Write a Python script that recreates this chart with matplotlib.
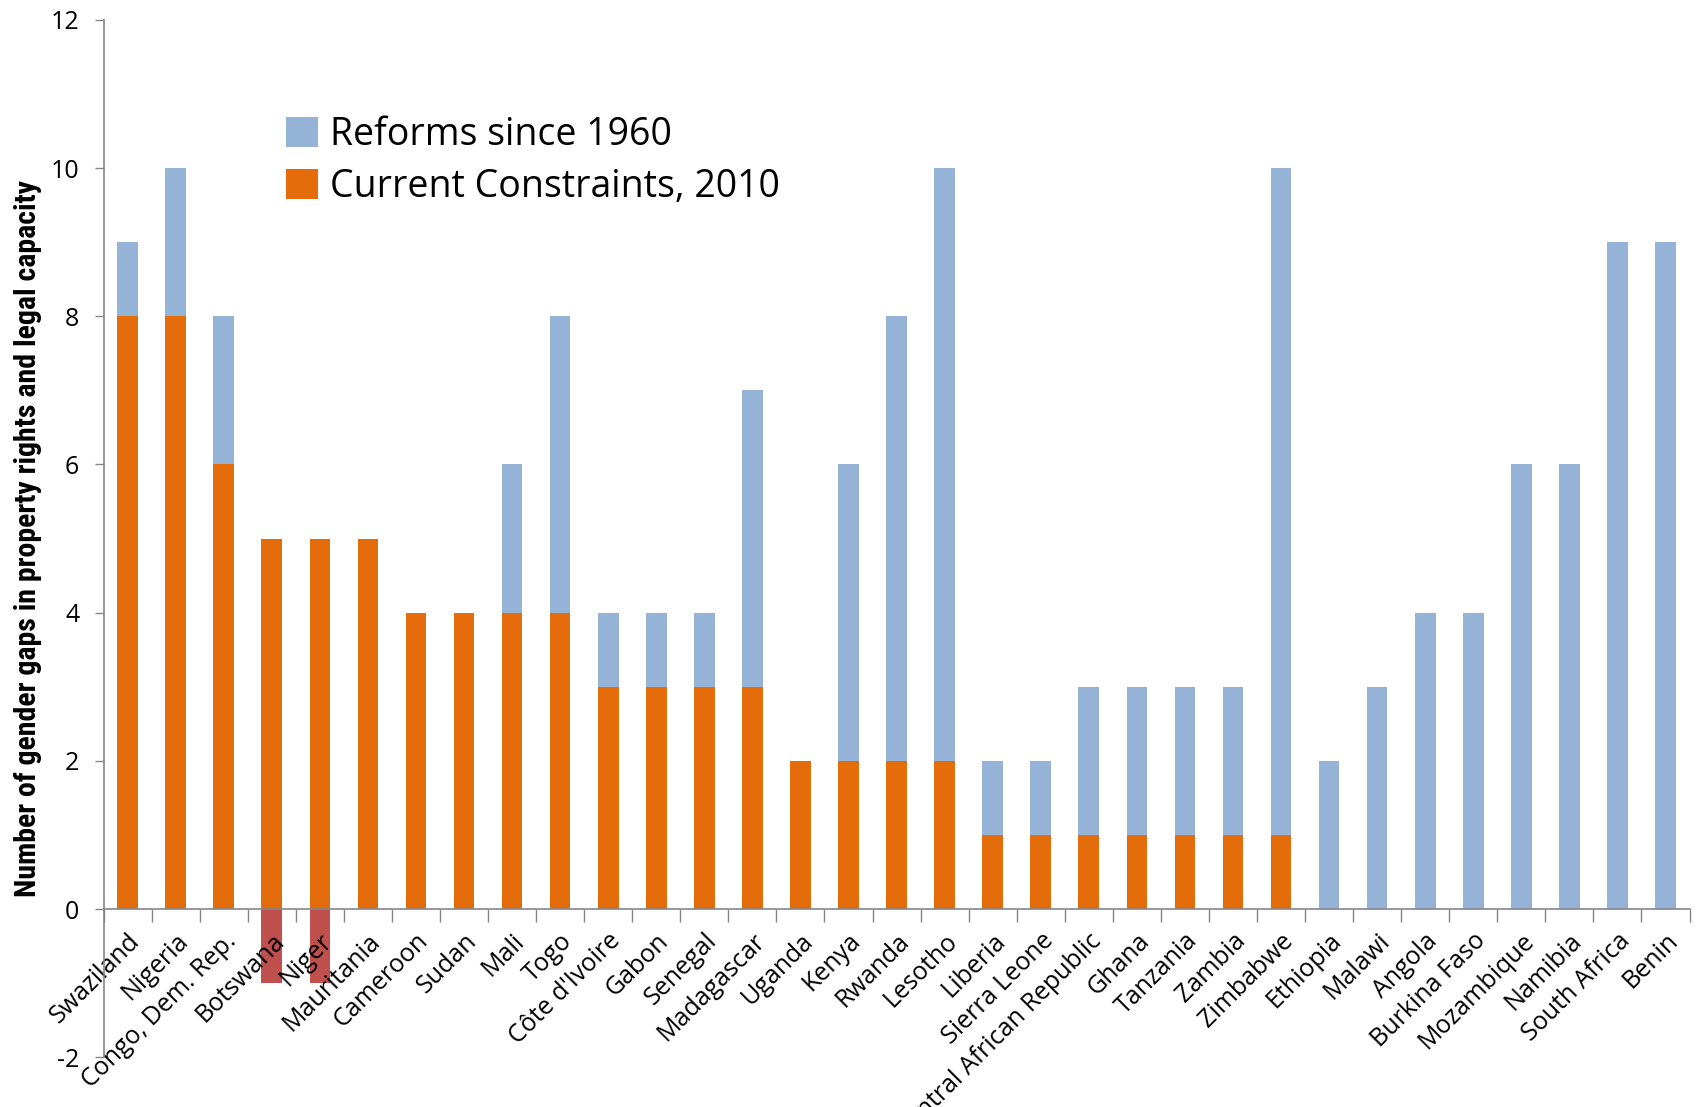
import matplotlib
matplotlib.use("Agg")
import matplotlib.pyplot as plt
import numpy as np
from matplotlib.patches import Patch

countries = ["Swaziland", "Nigeria", "Congo, Dem. Rep.", "Botswana", "Niger", "Mauritania",
             "Cameroon", "Sudan", "Mali", "Togo", "Côte d'Ivoire", "Gabon", "Senegal",
             "Madagascar", "Uganda", "Kenya", "Rwanda", "Lesotho", "Liberia", "Sierra Leone",
             "Central African Republic", "Ghana", "Tanzania", "Zambia", "Zimbabwe", "Ethiopia",
             "Malawi", "Angola", "Burkina Faso", "Mozambique", "Namibia", "South Africa", "Benin"]
current_2010 = [8, 8, 6, 5, 5, 5, 4, 4, 4, 4, 3, 3, 3, 3, 2, 2, 2, 2, 1, 1, 1, 1, 1, 1, 1,
                0, 0, 0, 0, 0, 0, 0, 0]
reforms_1960 = [1, 2, 2, -1, -1, 0, 0, 0, 2, 4, 1, 1, 1, 4, 0, 4, 6, 8, 1, 1, 2, 2, 2, 2, 9,
                2, 3, 4, 4, 6, 6, 9, 9]
yticks = [-2, 0, 2, 4, 6, 8, 10, 12]

plt.rcParams['font.family'] = ['Open Sans', 'DejaVu Sans']
plt.rcParams['axes.unicode_minus'] = False

fig = plt.figure(figsize=(16.98, 11.07), dpi=100)
ax = fig.add_axes([0.061, 0.045, 0.934, 0.937])

x = np.arange(len(countries))
cur = np.array(current_2010, dtype=float)
ref = np.array(reforms_1960, dtype=float)
w = 0.43
blue = "#95B3D7"
orange = "#E46C0A"
red = "#C0504D"

ax.bar(x, cur, width=w, color=orange, zorder=2)
pos = np.where(ref > 0, ref, 0)
neg = np.where(ref < 0, ref, 0)
ax.bar(x, pos, bottom=cur, width=w, color=blue, zorder=2)
ax.bar(x, neg, bottom=0, width=w, color=red, zorder=1)

ax.set_xlim(-0.5, len(countries) - 0.5)
ax.set_ylim(-2, 12)
ax.set_yticks(yticks)
ax.tick_params(axis='y', labelsize=18, length=6.5, color="#868686", width=1, pad=11)

ax.spines['top'].set_visible(False)
ax.spines['right'].set_visible(False)
ax.spines['bottom'].set_position(('data', 0))
for s in ['left', 'bottom']:
    ax.spines[s].set_color("#868686")
    ax.spines[s].set_linewidth(1.2)

ax.set_xticks(x)
ax.set_xticklabels(countries, rotation=45, ha='right', rotation_mode='anchor', fontsize=18)
ax.tick_params(axis='x', which='major', length=0, pad=14)
ax.set_xticks(np.arange(-0.5, len(countries), 1.0), minor=True)
ax.tick_params(axis='x', which='minor', length=9, color="#868686", width=1, direction='out')

ax.set_ylabel("Number of gender gaps in property rights and legal capacity", fontsize=21.5,
              fontweight='bold', family=['Liberation Sans Narrow', 'Roboto Condensed', 'Open Sans', 'DejaVu Sans'],
              labelpad=6)

handles = [Patch(facecolor=blue), Patch(facecolor=orange)]
ax.legend(handles, ["Reforms since 1960", "Current Constraints, 2010"], loc='upper left',
          bbox_to_anchor=(0.094, 0.94), frameon=False, fontsize=27,
          handlelength=0.85, handleheight=0.85, handletextpad=0.3, labelspacing=0.38)

fig.savefig("out.png", dpi=100)
